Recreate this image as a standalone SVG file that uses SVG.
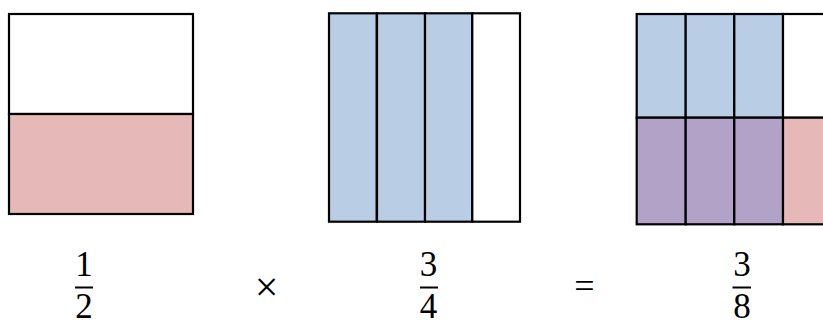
<svg xmlns="http://www.w3.org/2000/svg" width="823" height="320" viewBox="0 0 823 320">
<style>
.s{stroke:#000;stroke-width:2.2;}
.w{fill:#fff;}
.p{fill:#E6B8B7;}
.b{fill:#B9CDE5;}
.v{fill:#B3A2C7;}
.t{font-family:"Liberation Serif","DejaVu Serif",serif;font-size:35px;fill:#000;text-anchor:middle;}
.op{font-family:"Liberation Serif","DejaVu Serif",serif;fill:#000;text-anchor:middle;}
.bar{stroke:#000;stroke-width:2;}
</style>
<rect width="823" height="320" fill="#fff"/>
<g id="half">
<rect class="s w" x="9" y="14" width="184" height="100"/>
<rect class="s p" x="9" y="114" width="184" height="100"/>
</g>
<g id="threequarters">
<rect class="s b" x="329" y="13.3" width="47.7" height="208.4"/>
<rect class="s b" x="377" y="13.3" width="48" height="208.4"/>
<rect class="s b" x="425" y="13.3" width="47.3" height="208.4"/>
<rect class="s w" x="472.3" y="13.3" width="47.7" height="208.4"/>
</g>
<g id="product">
<rect class="s b" x="636.7" y="14" width="49" height="103.7"/>
<rect class="s b" x="685.7" y="14" width="48.6" height="103.7"/>
<rect class="s b" x="734.3" y="14" width="48.7" height="103.7"/>
<rect class="s w" x="783" y="14" width="48.7" height="103.7"/>
<rect class="s v" x="636.7" y="117.7" width="49" height="106.6"/>
<rect class="s v" x="685.7" y="117.7" width="48.6" height="106.6"/>
<rect class="s v" x="734.3" y="117.7" width="48.7" height="106.6"/>
<rect class="s p" x="783" y="117.7" width="48.7" height="106.6"/>
</g>
<g id="labels">
<text class="t" x="84" y="276">1</text>
<line class="bar" x1="75" y1="287.5" x2="93" y2="287.5"/>
<text class="t" x="84" y="318">2</text>
<text class="op" x="266.5" y="300.5" font-size="42">×</text>
<text class="t" x="428.5" y="276">3</text>
<line class="bar" x1="420" y1="287.5" x2="438" y2="287.5"/>
<text class="t" x="428.5" y="318">4</text>
<text class="op" x="584.5" y="297.5" font-size="36">=</text>
<text class="t" x="742" y="276">3</text>
<line class="bar" x1="732.5" y1="287.5" x2="751" y2="287.5"/>
<text class="t" x="742" y="318">8</text>
</g>
</svg>
